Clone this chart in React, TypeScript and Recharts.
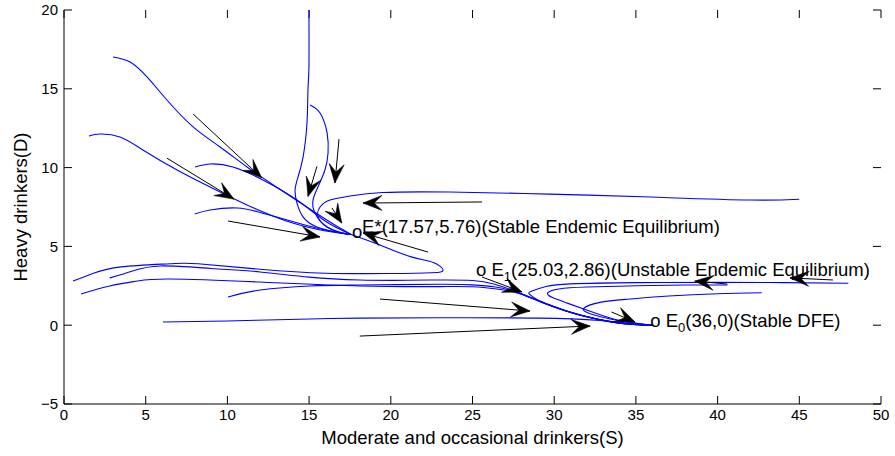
import React from "react";
import { LineChart, Line, XAxis, YAxis, ReferenceDot, ReferenceLine } from "recharts";

// phase plane S (moderate/occasional) vs D (heavy drinkers)
const xTicks = [0, 5, 10, 15, 20, 25, 30, 35, 40, 45, 50];
const yTicks = [-5, 0, 5, 10, 15, 20];
const xDomain = [0, 50];
const yDomain = [-5, 20];

// equilibria
const eStar = [17.57, 5.76];
const e1 = [25.03, 2.86];
const e0 = [36, 0];

// trajectories ending at E*
const trajT1 = [[3.0, 17.02], [4.04, 16.7], [5.08, 15.75], [6.3, 14.29], [7.9, 12.58], [9.55, 11.31], [11.2, 10.04], [13.0, 8.77], [15.0, 7.4], [16.5, 6.4], [17.57, 5.76]];
const trajT2 = [[1.53, 12.0], [2.2, 12.13], [3.43, 11.94], [4.83, 11.12], [6.92, 9.85], [8.94, 8.77], [11.2, 7.63], [14.0, 6.48], [16.2, 5.95], [17.57, 5.76]];
const trajT3 = [[8.02, 10.04], [8.94, 10.23], [10.34, 10.04], [12.2, 9.2], [14.26, 7.94], [16.0, 6.6], [17.57, 5.76]];
const trajT4 = [[8.0, 7.06], [8.94, 7.31], [10.6, 7.44], [12.0, 7.15], [13.4, 6.75], [15.5, 6.15], [17.57, 5.76]];
const trajV1 = [[14.99, 20], [14.99, 16.4], [14.93, 14.92], [14.87, 12.83], [14.63, 10.67], [14.32, 9.4], [14.14, 8.58], [14.26, 7.75], [14.63, 6.87], [15.48, 6.23], [16.9, 5.85], [17.57, 5.76]];
const trajV2 = [[15.06, 13.97], [15.67, 13.46], [16.1, 12.2], [16.16, 10.93], [15.97, 9.85], [15.54, 8.77], [15.24, 7.94], [15.36, 7.12], [16.1, 6.23], [17.07, 5.85], [17.57, 5.76]];
const trajH1 = [[45.0, 7.99], [42.0, 7.94], [35.9, 8.13], [29.7, 8.32], [23.6, 8.45], [19.5, 8.42], [17.5, 8.2], [16.28, 7.94], [15.67, 7.5], [15.54, 6.87], [16.1, 6.23], [17.0, 5.85], [17.57, 5.76]];
const trajA = [[0.55, 2.8], [1.8, 3.3], [3.5, 3.7], [6.5, 3.9], [8.2, 3.9], [12, 3.55], [16, 3.3], [20, 3.28], [22.5, 3.33], [23.2, 3.5], [22.6, 3.98], [21.2, 4.35], [19.3, 5.1], [17.57, 5.76]];

// trajectories ending at E0
const trajB = [[2.8, 3.0], [4.2, 3.44], [5.9, 3.76], [9, 3.6], [12, 3.38], [15, 3.05], [18.1, 2.87], [21, 2.85], [23, 2.87], [25, 2.84], [26.3, 2.62], [27.9, 2.04], [29.7, 1.28], [31.6, 0.65], [34, 0.14], [36, 0]];
const trajC = [[1.04, 1.98], [2.8, 2.49], [4.47, 2.8], [6.5, 2.93], [12, 2.74], [18.1, 2.49], [23, 2.45], [25, 2.44], [26.5, 2.3], [27.9, 2.0], [29.7, 1.26], [31.6, 0.64], [34, 0.13], [36, 0]];
const trajD = [[10.04, 1.79], [12, 2.23], [15.06, 2.49], [18.1, 2.55], [23, 2.6], [25, 2.56], [26.4, 2.42], [27.9, 2.02], [29.7, 1.27], [31.6, 0.64], [34, 0.13], [36, 0]];
const trajE = [[6.06, 0.2], [10, 0.27], [14.4, 0.38], [18.1, 0.45], [23, 0.47], [29, 0.45], [32.8, 0.3], [34.8, 0.1], [36, 0]];
const trajL1 = [[48.0, 2.66], [44, 2.7], [40, 2.72], [35, 2.7], [31, 2.62], [29.5, 2.45], [28.6, 2.15], [28.5, 1.95], [29.0, 1.6], [29.9, 1.22], [31.6, 0.63], [34, 0.13], [36, 0]];
const trajL2 = [[40.6, 2.55], [38, 2.55], [35, 2.5], [32, 2.42], [30.3, 2.3], [29.6, 2.05], [29.9, 1.75], [30.8, 1.4], [32.3, 0.85], [34, 0.3], [36, 0]];
const trajL3 = [[42.7, 2.06], [40, 2.0], [37, 1.85], [34.5, 1.65], [32.8, 1.45], [31.8, 1.05], [32.3, 0.7], [33.5, 0.38], [35, 0.12], [36, 0]];

const trajectories = [trajT1, trajT2, trajT3, trajT4, trajV1, trajV2, trajH1, trajA, trajB, trajC, trajD, trajE, trajL1, trajL2, trajL3];

// direction arrows: [tailS, tailD, tipS, tipD]
const arrows = [
  [7.9, 13.4, 12.1, 9.35],
  [6.3, 10.6, 10.4, 8.0],
  [15.48, 10.08, 14.93, 8.17],
  [16.83, 11.81, 16.58, 9.02],
  [16.4, 7.44, 17.0, 6.48],
  [10.04, 6.61, 15.67, 5.6],
  [25.58, 7.82, 18.3, 7.75],
  [22.28, 4.64, 18.3, 5.85],
  [25.58, 3.06, 28.03, 2.11],
  [19.34, 1.66, 28.52, 0.9],
  [18.1, -0.69, 32.2, -0.05],
  [33.5, 0.84, 34.95, 0.2],
  [40.6, 2.61, 38.6, 2.8],
  [47.06, 2.87, 44.43, 3.0],
];

const FONT = "Liberation Sans, Arial, Helvetica, sans-serif";
const W = 895;
const H = 456;
const MARGIN = { top: 10, right: 14, bottom: 4, left: 24 };
const X_AXIS_H = 48;
const Y_AXIS_W = 40;
const PLOT_W = W - MARGIN.left - MARGIN.right - Y_AXIS_W;
const PLOT_H = H - MARGIN.top - MARGIN.bottom - X_AXIS_H;
const TICK_LEN = 8;
// tick length expressed in axis units
const tickDX = (TICK_LEN * (xDomain[1] - xDomain[0])) / PLOT_W;
const tickDY = (TICK_LEN * (yDomain[1] - yDomain[0])) / PLOT_H;

const toPts = (a: number[][]) => a.map(([x, y]) => ({ x, y }));
const fmtNum = (v: number) => (v < 0 ? `\u2212${Math.abs(v)}` : `${v}`);

const ArrowHead = (props: any) => {
  const { cx, cy, index, points } = props;
  if (index !== 1 || cx == null || cy == null) return <g key={`n-${index}`} />;
  let dx = 1;
  let dy = 0;
  if (points && points[0]) {
    dx = cx - points[0].x;
    dy = cy - points[0].y;
  }
  const len = Math.hypot(dx, dy) || 1;
  const ux = dx / len;
  const uy = dy / len;
  const nx = -uy;
  const ny = ux;
  const L = 19;
  const HW = 7.5;
  const N = 11;
  const d = [
    `M${cx},${cy}`,
    `L${cx - L * ux + HW * nx},${cy - L * uy + HW * ny}`,
    `L${cx - N * ux},${cy - N * uy}`,
    `L${cx - L * ux - HW * nx},${cy - L * uy - HW * ny}`,
    "Z",
  ].join(" ");
  return <path key={`h-${index}`} d={d} fill="#000" stroke="#000" strokeWidth={0.6} />;
};

const labelStyle = { fontSize: 18.5, fontFamily: FONT, fill: "#000" };
const tickStyle = { fontSize: 15, fontFamily: FONT, fill: "#000" };

const StarLabel = (props: any) => {
  const { cx, cy } = props;
  return (
    <g>
      <text x={cx + 1} y={cy + 3.5} {...labelStyle}>o</text>
      <text x={cx + 11} y={cy - 1.5} {...labelStyle}>
        {`E*(${eStar[0]},${eStar[1]})(Stable Endemic Equilibrium)`}
      </text>
    </g>
  );
};

const SubLabel = ({ cx, cy, dx, dy, sub, rest }: any) => (
  <text x={cx + dx} y={cy + dy} {...labelStyle}>
    o E
    <tspan dy={5} fontSize={13}>{sub}</tspan>
    <tspan dy={-5}>{rest}</tspan>
  </text>
);

const refProps = { xAxisId: "b", yAxisId: "l", ifOverflow: "visible" } as const;
const tickLineStyle = { stroke: "#000", strokeWidth: 1 };

export default function App() {
  return (
    <div style={{ position: "absolute", left: 0, top: 0, background: "#fff" }}>
      <LineChart width={W} height={H} margin={MARGIN}>
        <XAxis
          xAxisId="b"
          type="number"
          dataKey="x"
          domain={xDomain}
          ticks={xTicks}
          interval={0}
          allowDataOverflow
          height={X_AXIS_H}
          tickSize={0}
          tickMargin={5}
          tickLine={false}
          tick={tickStyle}
          axisLine={{ stroke: "#000" }}
          label={{ value: "Moderate and occasional drinkers(S)", position: "insideBottom", offset: 8, style: labelStyle }}
        />
        <XAxis
          xAxisId="t"
          orientation="top"
          type="number"
          dataKey="x"
          domain={xDomain}
          ticks={xTicks}
          allowDataOverflow
          height={0}
          tick={false}
          tickLine={false}
          axisLine={{ stroke: "#000" }}
        />
        <YAxis
          yAxisId="l"
          type="number"
          domain={yDomain}
          ticks={yTicks}
          interval={0}
          allowDataOverflow
          width={Y_AXIS_W}
          tickSize={0}
          tickMargin={6}
          tickLine={false}
          tick={tickStyle}
          tickFormatter={fmtNum}
          axisLine={{ stroke: "#000" }}
          label={{
            content: () => (
              <text transform="translate(27,207) rotate(-90)" textAnchor="middle" {...labelStyle}>
                Heavy drinkers(D)
              </text>
            ),
          }}
        />
        <YAxis
          yAxisId="r"
          orientation="right"
          type="number"
          domain={yDomain}
          ticks={yTicks}
          allowDataOverflow
          width={0}
          tick={false}
          tickLine={false}
          axisLine={{ stroke: "#000" }}
        />
        {xTicks.map((t) => (
          <ReferenceLine
            key={`tb-${t}`}
            {...refProps}
            segment={[{ x: t, y: yDomain[0] }, { x: t, y: yDomain[0] + tickDY }]}
            {...tickLineStyle}
          />
        ))}
        {xTicks.map((t) => (
          <ReferenceLine
            key={`tt-${t}`}
            {...refProps}
            segment={[{ x: t, y: yDomain[1] }, { x: t, y: yDomain[1] - tickDY }]}
            {...tickLineStyle}
          />
        ))}
        {yTicks.map((t) => (
          <ReferenceLine
            key={`tl-${t}`}
            {...refProps}
            segment={[{ x: xDomain[0], y: t }, { x: xDomain[0] + tickDX, y: t }]}
            {...tickLineStyle}
          />
        ))}
        {yTicks.map((t) => (
          <ReferenceLine
            key={`tr-${t}`}
            {...refProps}
            segment={[{ x: xDomain[1], y: t }, { x: xDomain[1] - tickDX, y: t }]}
            {...tickLineStyle}
          />
        ))}
        {trajectories.map((t, i) => (
          <Line
            key={`tj-${i}`}
            xAxisId="b"
            yAxisId="l"
            data={toPts(t)}
            dataKey="y"
            type="natural"
            stroke="#0000ff"
            strokeWidth={1.1}
            dot={false}
            activeDot={false}
            isAnimationActive={false}
          />
        ))}
        {arrows.map((a, i) => (
          <Line
            key={`ar-${i}`}
            xAxisId="b"
            yAxisId="l"
            data={[{ x: a[0], y: a[1] }, { x: a[2], y: a[3] }]}
            dataKey="y"
            type="linear"
            stroke="#000"
            strokeWidth={1}
            dot={ArrowHead}
            activeDot={false}
            isAnimationActive={false}
          />
        ))}
        <ReferenceDot {...refProps} r={0} x={eStar[0]} y={eStar[1]} shape={(p: any) => <StarLabel {...p} />} />
        <ReferenceDot
          {...refProps}
          r={0}
          x={e1[0]}
          y={e1[1]}
          shape={(p: any) => (
            <SubLabel cx={p.cx} cy={p.cy} dx={3} dy={-4.5} sub="1" rest={`(${e1[0]},${e1[1]})(Unstable Endemic Equilibrium)`} />
          )}
        />
        <ReferenceDot
          {...refProps}
          r={0}
          x={e0[0]}
          y={e0[1]}
          shape={(p: any) => (
            <SubLabel cx={p.cx} cy={p.cy} dx={-2} dy={2} sub="0" rest={`(${e0[0]},${e0[1]})(Stable DFE)`} />
          )}
        />
      </LineChart>
    </div>
  );
}
